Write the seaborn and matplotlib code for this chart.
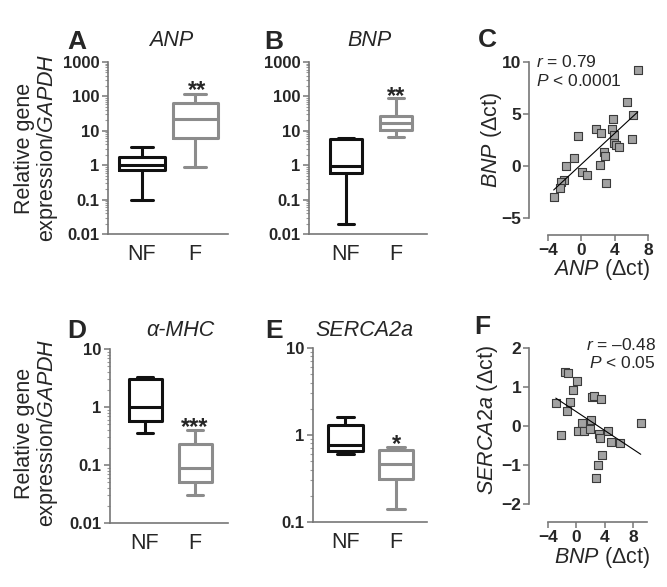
import numpy as np
import pandas as pd
import matplotlib
matplotlib.use('Agg')
import matplotlib.pyplot as plt
import seaborn as sns
from matplotlib.ticker import LogLocator, NullFormatter

# ---------------- data ----------------
groups = ['NF', 'F']
# five-number summaries (min, Q1, median, Q3, max)
anp_nf = [0.10, 0.72, 1.0, 1.75, 3.4]
anp_f = [0.86, 6.2, 22.7, 65.0, 120.0]
bnp_nf = [0.02, 0.60, 0.94, 5.6, 6.0]
bnp_f = [6.5, 10.9, 17.0, 27.7, 88.0]
mhc_nf = [0.36, 0.58, 1.0, 3.1, 3.3]
mhc_f = [0.030, 0.051, 0.09, 0.23, 0.40]
serca_nf = [0.605, 0.656, 0.77, 1.32, 1.59]
serca_f = [0.141, 0.31, 0.461, 0.673, 0.735]

# panel C scatter: ANP (dct) vs BNP (dct)
c_anp = [6.77, 5.44, 6.16, 3.84, 1.72, 2.32, 3.72, 3.96, -0.36, 6.12, 3.96, 4.2, 4.5,
         2.68, 2.84, -0.84, -1.8, 2.24, 0.04, 0.64, -2.04, 2.9, -2.44, -2.52, -3.32]
c_bnp = [9.23, 6.18, 4.9, 4.49, 3.56, 3.2, 3.56, 2.98, 2.88, 2.57, 2.18, 2.0, 1.85,
         1.38, 0.96, 0.74, 0.03, 0.1, -0.55, -0.87, -1.35, -1.6, -1.5, -2.14, -2.94]

# panel F scatter: BNP (dct) vs SERCA2a (dct)
f_bnp = [-1.6, -1.22, 0.05, -0.5, -2.9, -0.9, -1.36, 2.17, 2.54, 3.49, -2.16, 0.85, 2.08,
         0.19, 1.13, 1.93, 3.2, 3.34, 4.43, 4.9, 6.17, 9.1, 3.58, 3.0, 2.74]
f_serca = [1.39, 1.35, 1.16, 0.92, 0.6, 0.61, 0.38, 0.74, 0.77, 0.70, -0.22, 0.08, 0.15,
           -0.12, -0.12, -0.09, -0.2, -0.32, -0.12, -0.4, -0.43, 0.07, -0.74, -1.0, -1.32]

box_colors = {'NF': '#111111', 'F': '#8c8c8c'}
SPINE = '#777777'

# ---------------- style ----------------
sns.set_style('ticks')
plt.rcParams['font.family'] = ['Liberation Sans', 'DejaVu Sans']
plt.rcParams['mathtext.fontset'] = 'custom'
plt.rcParams['mathtext.rm'] = 'Liberation Sans'
plt.rcParams['mathtext.it'] = 'Liberation Sans:italic'
plt.rcParams['mathtext.bf'] = 'Liberation Sans:bold'

W, H = 667, 587
fig = plt.figure(figsize=(W / 100, H / 100), dpi=100)


def add_ax(l, t, r, b):
    return fig.add_axes([l / W, 1 - b / H, (r - l) / W, (b - t) / H])


def ftext(x, y, s, **kw):
    return fig.text(x / W, 1 - y / H, s, **kw)


def style_spines(ax):
    sns.despine(ax=ax)
    for side in ('left', 'bottom'):
        ax.spines[side].set_color(SPINE)
        ax.spines[side].set_linewidth(1.2)


def box_panel(ax, nf, f, ylim, yticks, yticklabels, xlim, width):
    df = pd.DataFrame({'group': ['NF'] * len(nf) + ['F'] * len(f),
                       'value': list(nf) + list(f)})
    sns.boxplot(data=df, x='group', y='value', hue='group', order=groups,
                hue_order=groups, palette=box_colors, fill=False, width=width,
                linewidth=2.2, whis=(0, 100), showfliers=False, log_scale=True,
                legend=False, ax=ax)
    ax.set_ylim(*ylim)
    ax.set_xlim(*xlim)
    ax.set_yticks(yticks)
    ax.set_yticklabels(yticklabels)
    ax.yaxis.set_minor_locator(LogLocator(base=10, subs=np.arange(2, 10)))
    ax.yaxis.set_minor_formatter(NullFormatter())
    ax.set_xlabel('')
    ax.set_ylabel('')
    style_spines(ax)
    ax.tick_params(axis='y', which='major', length=4, width=1.1, color=SPINE,
                   labelsize=12, pad=2)
    ax.tick_params(axis='y', which='minor', length=2.5, width=0.8, color='#999999')
    ax.tick_params(axis='x', length=0, labelsize=15.5, pad=7)
    for lb in ax.get_yticklabels():
        lb.set_fontweight('bold')


def scatter_panel(ax, x, y, xlim, ylim, xb, yb, xticks, yticks):
    sns.scatterplot(x=x, y=y, marker='s', s=36, color='#a2a2a2', edgecolor='#3a3a3a',
                    linewidth=0.8, ax=ax, zorder=2)
    sns.regplot(x=x, y=y, scatter=False, ci=None, truncate=True, color='black',
                line_kws={'lw': 0.8, 'zorder': 3}, ax=ax)
    ax.set_xlim(*xlim)
    ax.set_ylim(*ylim)
    ax.set_xticks(xticks)
    ax.set_yticks(yticks)
    ax.set_xlabel('')
    ax.set_ylabel('')
    style_spines(ax)
    ax.spines['left'].set_bounds(*yb)
    ax.spines['bottom'].set_bounds(*xb)
    ax.tick_params(length=4, width=1.1, color=SPINE, labelsize=12.5, pad=1.5)
    for lb in ax.get_yticklabels() + ax.get_xticklabels():
        lb.set_fontweight('bold')


# ---------------- panel A ----------------
axA = add_ax(108, 62, 228, 234)
box_panel(axA, anp_nf, anp_f, (0.01, 1000), [0.01, 0.1, 1, 10, 100, 1000],
          ['0.01', '0.1', '1', '10', '100', '1000'], (-0.64, 1.62), 0.85)

# ---------------- panel B ----------------
axB = add_ax(309, 62, 427, 234)
box_panel(axB, bnp_nf, bnp_f, (0.01, 1000), [0.01, 0.1, 1, 10, 100, 1000],
          ['0.01', '0.1', '1', '10', '100', '1000'], (-0.74, 1.62), 0.65)

# ---------------- panel D ----------------
axD = add_ax(110, 349, 228, 523)
box_panel(axD, mhc_nf, mhc_f, (0.01, 10), [0.01, 0.1, 1, 10],
          ['0.01', '0.1', '1', '10'], (-0.70, 1.66), 0.66)

# ---------------- panel E ----------------
axE = add_ax(313, 348, 427, 522)
box_panel(axE, serca_nf, serca_f, (0.1, 10), [0.1, 1, 10],
          ['0.1', '1', '10'], (-0.64, 1.61), 0.68)

# ---------------- panel C ----------------
axC = add_ax(529, 58, 652, 235)
scatter_panel(axC, c_anp, c_bnp, (-6.28, 8.48), (-6.63, 10.38), (-4, 8), (-5, 10),
              [-4, 0, 4, 8], [-5, 0, 5, 10])

# ---------------- panel F ----------------
axF = add_ax(529, 344, 652, 522)
scatter_panel(axF, f_bnp, f_serca, (-6.68, 10.69), (-2.46, 2.1), (-4, 10), (-2, 2),
              [-4, 0, 4, 8], [-2, -1, 0, 1, 2])

# ---------------- texts ----------------
ylab = 'Relative gene\nexpression/$\\mathit{GAPDH}$'
ftext(37, 148, ylab, rotation=90, ha='center', va='center', fontsize=15.5,
      multialignment='center', linespacing=1.05)
ftext(37, 433, ylab, rotation=90, ha='center', va='center', fontsize=15.5,
      multialignment='center', linespacing=1.05)

ftext(492, 140, '$\\mathit{BNP}$ (\u0394ct)', rotation=90, ha='center', va='center',
      fontsize=15.5)
ftext(602, 257, '$\\mathit{ANP}$ (\u0394ct)', ha='center', va='top', fontsize=15.5)
ftext(487, 420, '$\\mathit{SERCA2a}$ (\u0394ct)', rotation=90, ha='center', va='center',
      fontsize=15.5)
ftext(602, 545, '$\\mathit{BNP}$ (\u0394ct)', ha='center', va='top', fontsize=15.5)

# titles
for x, y, s in [(171, 41, 'ANP'), (369, 41, 'BNP'), (180, 331, '\u03b1-MHC'),
                (364, 331, 'SERCA2a')]:
    ftext(x, y, s, ha='center', va='center', fontsize=15.5, fontstyle='italic')

# panel letters
for x, y, s in [(77, 42, 'A'), (274, 42, 'B'), (487, 40, 'C'), (77, 331, 'D'),
                (274, 331, 'E'), (482, 327, 'F')]:
    ftext(x, y, s, ha='center', va='center', fontsize=19, fontweight='bold')

# significance stars
for x, y, s in [(197, 97, '**'), (396, 103, '**'), (195, 434, '***'), (396, 451, '*')]:
    ftext(x, y, s, ha='center', va='baseline', fontsize=17, fontweight='bold')

# correlation statistics
ftext(536, 67, '$\\mathit{r}$ = 0.79', ha='left', va='baseline', fontsize=12.5)
ftext(536, 86, '$\\mathit{P}$ < 0.0001', ha='left', va='baseline', fontsize=12.5)
ftext(656, 350, '$\\mathit{r}$ = \u20130.48', ha='right', va='baseline', fontsize=12.5)
ftext(656, 368, '$\\mathit{P}$ < 0.05', ha='right', va='baseline', fontsize=12.5)

fig.savefig('out.png', dpi=100)
